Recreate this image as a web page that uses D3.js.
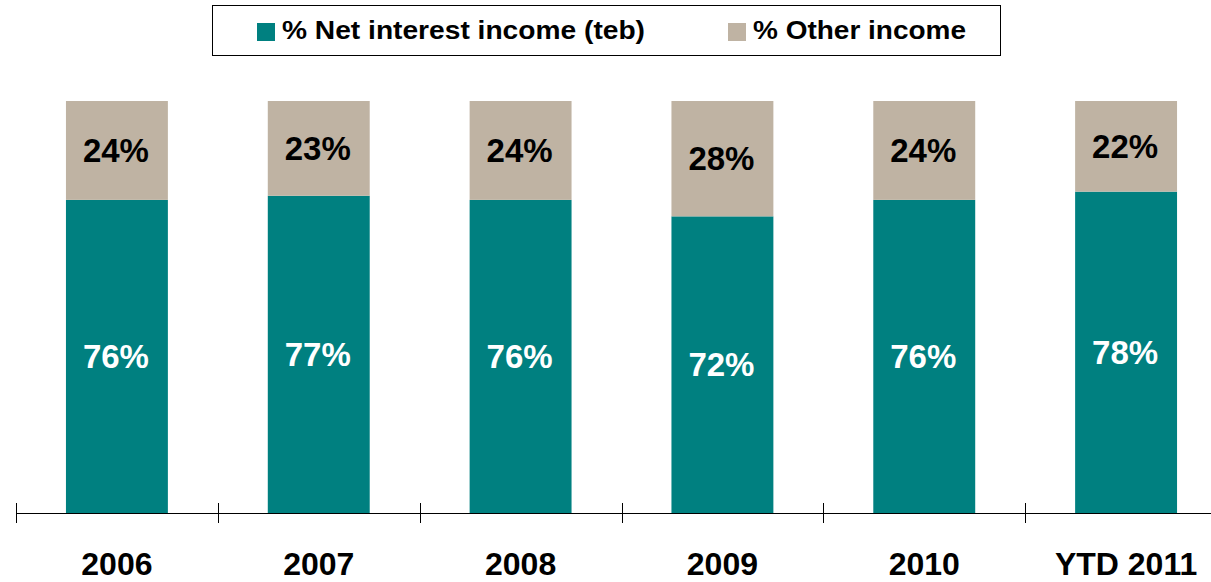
<!DOCTYPE html>
<html>
<head>
<meta charset="utf-8">
<script src="https://cdn.jsdelivr.net/npm/d3@7"></script>
<style>
  html, body { margin: 0; padding: 0; background: #fff; }
  svg { display: block; font-family: "Liberation Sans", Arial, sans-serif; }
</style>
</head>
<body>
<svg id="chart" width="1211" height="582"></svg>
<script>
// Income mix by year
const categories = ["2006", "2007", "2008", "2009", "2010", "YTD 2011"];
const netInterest = [76, 77, 76, 72, 76, 78];
const otherIncome = [24, 23, 24, 28, 24, 22];
const seriesNames = ["% Net interest income (teb)", "% Other income"];
const seriesColors = ["#008080", "#BFB3A3"];
const labelColors = ["#ffffff", "#000000"];

const svg = d3.select("#chart");

const x = d3.scaleBand()
  .domain(categories)
  .range([16, 1227])
  .paddingInner(0.495)
  .paddingOuter(0.2475);

const y = d3.scaleLinear().domain([0, 100]).range([513, 101]);

const rows = categories.map((c, i) => ({ cat: c, a: netInterest[i], b: otherIncome[i] }));
const stacked = d3.stack().keys(["a", "b"])(rows);

// Bars
stacked.forEach((layer, k) => {
  svg.append("g")
    .selectAll("rect")
    .data(layer)
    .join("rect")
    .attr("x", d => x(d.data.cat))
    .attr("width", x.bandwidth())
    .attr("y", d => y(d[1]))
    .attr("height", d => y(d[0]) - y(d[1]))
    .attr("fill", seriesColors[k]);

  svg.append("g")
    .selectAll("text")
    .data(layer)
    .join("text")
    .attr("x", d => x(d.data.cat) + x.bandwidth() / 2 - 1)
    .attr("y", d => (y(d[0]) + y(d[1])) / 2)
    .attr("dy", "0.35em")
    .attr("text-anchor", "middle")
    .attr("font-size", 33)
    .attr("font-weight", "bold")
    .attr("fill", labelColors[k])
    .text(d => (d[1] - d[0]) + "%");
});

// Category axis with ticks at the band boundaries
const step = x.step();
const boundaries = d3.range(categories.length + 1).map(i => 16 + i * step);
svg.append("line")
  .attr("x1", 16).attr("x2", 1227)
  .attr("y1", 513.5).attr("y2", 513.5)
  .attr("stroke", "#000").attr("stroke-width", 1);
svg.append("g")
  .selectAll("line")
  .data(boundaries)
  .join("line")
  .attr("x1", d => Math.round(d) + 0.5).attr("x2", d => Math.round(d) + 0.5)
  .attr("y1", 503).attr("y2", 523)
  .attr("stroke", "#000").attr("stroke-width", 1);

svg.append("g")
  .selectAll("text")
  .data(categories)
  .join("text")
  .attr("x", d => x(d) + x.bandwidth() / 2)
  .attr("y", 575)
  .attr("text-anchor", "middle")
  .attr("font-size", 32)
  .attr("font-weight", "bold")
  .attr("fill", "#000")
  .text(d => d);

// Legend
const legend = svg.append("g");
legend.append("rect")
  .attr("x", 212.5).attr("y", 5.5)
  .attr("width", 788).attr("height", 50)
  .attr("fill", "#fff").attr("stroke", "#000").attr("stroke-width", 1);

const legendItems = [
  { x: 257, name: seriesNames[0], color: seriesColors[0], len: 363 },
  { x: 728, name: seriesNames[1], color: seriesColors[1], len: 213 }
];
legendItems.forEach(it => {
  legend.append("rect")
    .attr("x", it.x).attr("y", 23)
    .attr("width", 18).attr("height", 18)
    .attr("fill", it.color);
  legend.append("text")
    .attr("x", it.x + 25)
    .attr("y", 38.5)
    .attr("font-size", 26)
    .attr("font-weight", "bold")
    .attr("fill", "#000")
    .attr("textLength", it.len)
    .attr("lengthAdjust", "spacingAndGlyphs")
    .text(it.name);
});
</script>
</body>
</html>
